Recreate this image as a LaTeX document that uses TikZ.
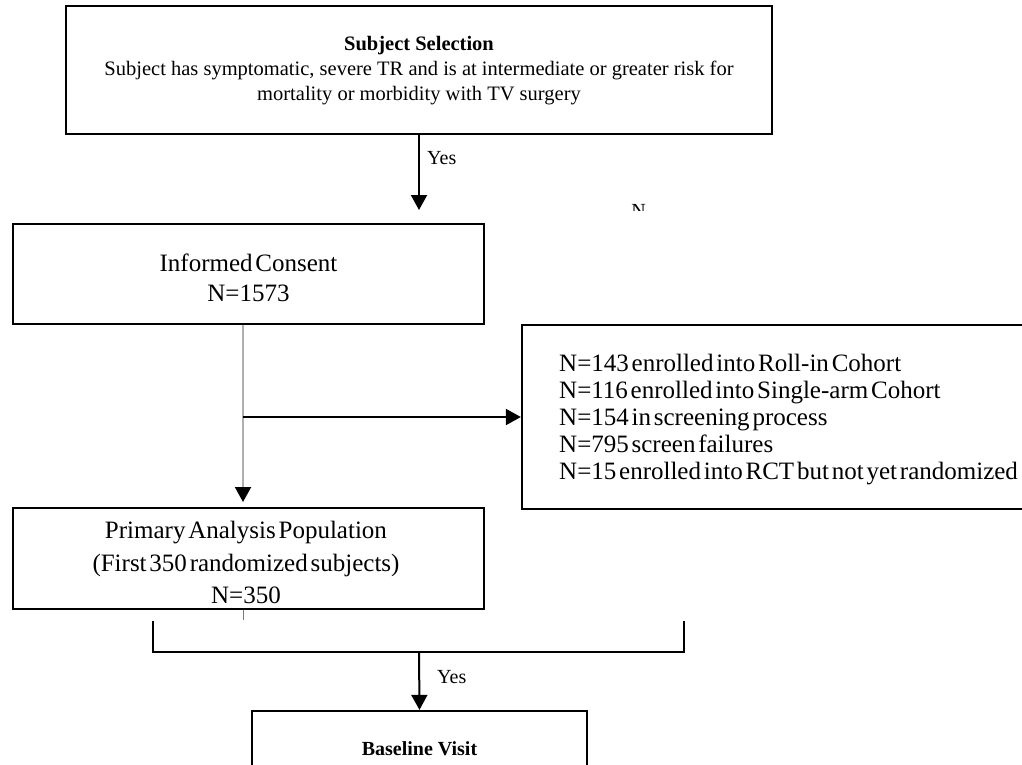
\documentclass[tikz,border=0pt]{standalone}
\usepackage{fontspec}
\setmainfont{Liberation Serif}
\newfontfamily\tightserif[WordSpace=0.45]{Liberation Serif}
\usetikzlibrary{arrows.meta}
\begin{document}
\begin{tikzpicture}[x=1pt,y=-1pt,
  box/.style={draw=black, line width=2.3pt, inner sep=0pt},
  arr/.style={line width=2pt, -{Triangle[length=15pt,width=16pt]}},
  grayarr/.style={draw={rgb,255:red,175;green,175;blue,175}, line width=2pt, -{Triangle[length=15pt,width=16pt,color=black]}},
  ln/.style={line width=2pt},
  tick/.style={draw={rgb,255:red,120;green,120;blue,120}, line width=1pt},
  lbl/.style={inner sep=0pt, font=\fontsize{20}{24}\selectfont},
  body/.style={inner sep=0pt, align=center}]
\useasboundingbox (0,0) rectangle (1022,764);
\clip (0,0) rectangle (1022,764);
\fill[white] (0,0) rectangle (1022,764);

% boxes
\node[box, minimum width=706pt, minimum height=128pt] (top) at (419,70) {};
\node[body, font=\fontsize{20.5}{25}\selectfont] (toptxt) at (419,71)
  {\textbf{Subject Selection}\\Subject has symptomatic, severe TR and is at intermediate or greater risk for\\mortality or morbidity with TV surgery};

\node[box, minimum width=471pt, minimum height=100pt] (ic) at (248.5,274) {};
\node[body, font=\tightserif\fontsize{25}{30}\selectfont] (ictxt) at (248.5,278)
  {Informed Consent\\N=1573};

\node[box, minimum width=518pt, minimum height=184pt] (excl) at (781,417) {};
\node[anchor=west, align=left, inner sep=0pt, font=\tightserif\fontsize{25}{27}\selectfont] (excltxt) at (559,420)
  {N=143 enrolled into Roll-in Cohort\\N=116 enrolled into Single-arm Cohort\\N=154 in screening process\\N=795 screen failures\\N=15 enrolled into RCT but not yet randomized};

\node[box, minimum width=471pt, minimum height=101pt] (prim) at (248.5,558.5) {};
\node[body, font=\tightserif\fontsize{25}{32.5}\selectfont] (primtxt) at (246,562.5)
  {Primary Analysis Population\\(First 350 randomized subjects)\\N=350};

\node[box, minimum width=335pt, minimum height=110pt] (base) at (419.5,766) {};
\node[inner sep=0pt, font=\bfseries\fontsize{20}{24}\selectfont] (basetxt) at (419.5,749) {Baseline Visit};

% labels
\node[lbl, anchor=west] (yes1) at (427,158) {Yes};
\node[lbl, anchor=west] (yes2) at (437,677) {Yes};
\begin{scope}
  \clip (620,195) rectangle (660,210);
  \node[inner sep=0pt, anchor=base, font=\fontsize{20}{24}\selectfont] (nfrag) at (638.5,217) {N};
\end{scope}

% connectors
\coordinate (a1) at (419,210);
\draw[arr] (top.south) -- (a1);

\coordinate (g1) at (243,502);
\draw[grayarr] (ic.south -| g1) -- (g1);

\coordinate (h0) at (243,417);
\draw[arr] (h0) -- (excl.west);

\coordinate (tk) at (243,620);
\draw[tick] (prim.south -| tk) -- (tk);

\coordinate (b1) at (153,621);
\coordinate (b2) at (153,652);
\coordinate (b3) at (684,652);
\coordinate (b4) at (684,621);
\draw[ln] (b1) -- (b2) -- (b3) -- (b4);

\coordinate (m) at (419,652);
\draw[arr] (m) -- (base.north);
\end{tikzpicture}
\end{document}
